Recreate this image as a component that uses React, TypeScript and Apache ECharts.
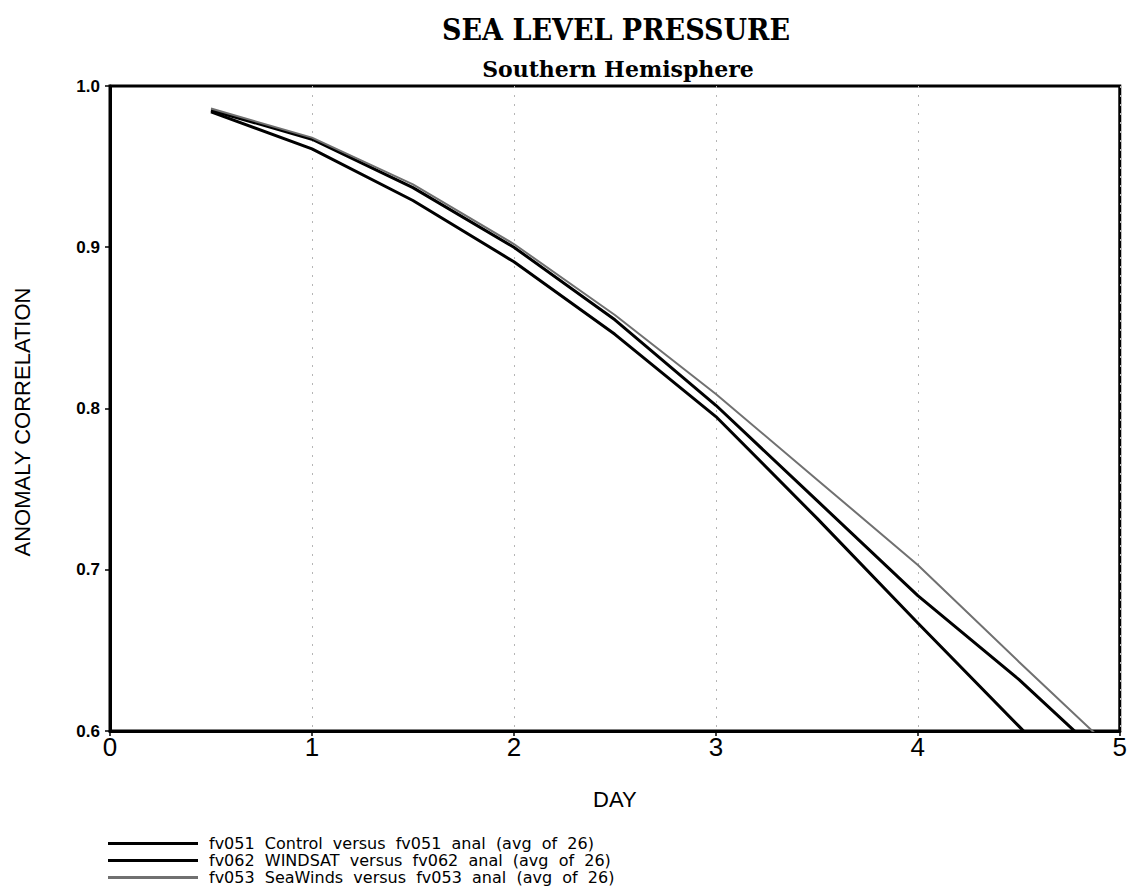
import React, { useEffect, useRef } from "react";
import * as echarts from "echarts";

const days = [0.5, 1, 1.5, 2, 2.5, 3, 3.5, 4, 4.5, 5];
const control = [0.984, 0.961, 0.929, 0.891, 0.846, 0.795, 0.732, 0.667, 0.603, 0.539];
const windsat = [0.985, 0.967, 0.937, 0.9, 0.855, 0.802, 0.743, 0.684, 0.632, 0.574];
const seawinds = [0.986, 0.968, 0.939, 0.902, 0.858, 0.809, 0.756, 0.703, 0.643, 0.584];
const seriesNames = [
  "fv051  Control  versus  fv051  anal  (avg  of  26)",
  "fv062  WINDSAT  versus  fv062  anal  (avg  of  26)",
  "fv053  SeaWinds  versus  fv053  anal  (avg  of  26)",
];
const titleText = "SEA LEVEL PRESSURE";
const subtitleText = "Southern Hemisphere";
const yAxisTitle = "ANOMALY CORRELATION";
const xAxisTitle = "DAY";

export default function App() {
  const ref = useRef<HTMLDivElement>(null);
  useEffect(() => {
    if (!ref.current) return;
    const chart = echarts.init(ref.current, null, { renderer: "svg" });
    const pair = (ys: number[]) => days.map((d, i) => [d, ys[i]]);
    const sansNarrow = "'Liberation Sans Narrow', 'Liberation Sans', sans-serif";
    chart.setOption({
      animation: false,
      backgroundColor: "#ffffff",
      graphic: [
        {
          type: "text",
          x: 616,
          y: 14,
          style: {
            text: titleText,
            font: "bold 30px 'DejaVu Serif Condensed', 'DejaVu Serif', serif",
            fill: "#000",
            align: "center",
            verticalAlign: "top",
          },
        },
        {
          type: "text",
          x: 618,
          y: 58,
          style: {
            text: subtitleText,
            font: "bold 22px 'DejaVu Serif', serif",
            fill: "#000",
            align: "center",
            verticalAlign: "top",
          },
        },
        {
          type: "text",
          x: 22,
          y: 422,
          rotation: Math.PI / 2,
          style: {
            text: yAxisTitle,
            font: "22px 'Liberation Sans', sans-serif",
            fill: "#000",
            align: "center",
            verticalAlign: "middle",
          },
        },
      ],
      grid: {
        left: 110,
        top: 86,
        right: 8,
        bottom: 160,
        show: true,
        borderColor: "#000",
        borderWidth: 3,
      },
      legend: {
        orient: "vertical",
        left: 108,
        top: 835,
        padding: 0,
        icon: "rect",
        itemWidth: 90,
        itemHeight: 3,
        itemGap: 0,
        data: seriesNames,
        textStyle: {
          fontFamily: "'DejaVu Sans', sans-serif",
          fontSize: 16,
          lineHeight: 17,
          color: "#000",
          padding: [0, 0, 0, 6],
        },
      },
      xAxis: {
        type: "value",
        min: 0,
        max: 5,
        interval: 1,
        name: xAxisTitle,
        nameLocation: "middle",
        nameGap: 57,
        nameTextStyle: { fontFamily: sansNarrow, fontSize: 22, color: "#000" },
        axisLine: { show: true, lineStyle: { color: "#000", width: 3 } },
        axisTick: { show: true, length: 5, lineStyle: { color: "#000", width: 1.5 } },
        axisLabel: { fontFamily: sansNarrow, fontSize: 26, color: "#000", margin: 3 },
        splitLine: { show: true, lineStyle: { color: "#b5b5b5", width: 1, type: [2, 7] } },
      },
      yAxis: {
        type: "value",
        min: 0.6,
        max: 1.0,
        interval: 0.1,
        axisLine: { show: true, lineStyle: { color: "#000", width: 3 } },
        axisTick: { show: true, length: 5, lineStyle: { color: "#000", width: 1.5 } },
        axisLabel: {
          fontFamily: sansNarrow,
          fontSize: 17,
          fontWeight: "bold",
          color: "#000",
          margin: 10,
          formatter: (v: number) => v.toFixed(1),
        },
        splitLine: { show: false },
      },
      series: [
        {
          name: seriesNames[0],
          type: "line",
          data: pair(control),
          showSymbol: false,
          symbol: "none",
          clip: true,
          lineStyle: { color: "#000", width: 3 },
          itemStyle: { color: "#000" },
        },
        {
          name: seriesNames[1],
          type: "line",
          data: pair(windsat),
          showSymbol: false,
          symbol: "none",
          clip: true,
          lineStyle: { color: "#000", width: 3 },
          itemStyle: { color: "#000" },
        },
        {
          name: seriesNames[2],
          type: "line",
          data: pair(seawinds),
          showSymbol: false,
          symbol: "none",
          clip: true,
          lineStyle: { color: "#707070", width: 2 },
          itemStyle: { color: "#707070" },
        },
      ],
    });
    return () => chart.dispose();
  }, []);
  return (
    <div
      ref={ref}
      style={{ position: "fixed", left: 0, top: 0, width: 1130, height: 891 }}
    />
  );
}
